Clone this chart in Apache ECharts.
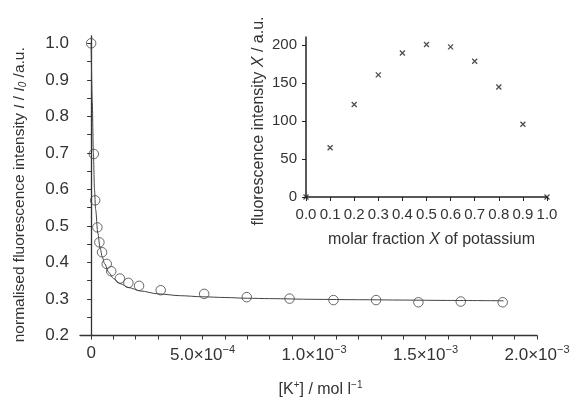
<!DOCTYPE html>
<html><head><meta charset="utf-8">
<script src="https://cdn.jsdelivr.net/npm/echarts@6/dist/echarts.min.js"></script>
<style>html,body{margin:0;padding:0;background:#fff}#c{width:573px;height:403px}</style>
</head><body><div id="c"></div>
<script>
// main chart: quenching titration, x in mol/l
var conc = [0, 0.12e-4, 0.18e-4, 0.28e-4, 0.37e-4, 0.49e-4, 0.70e-4, 0.90e-4, 1.29e-4, 1.67e-4, 2.15e-4, 3.12e-4, 5.07e-4, 6.98e-4, 8.90e-4, 10.87e-4, 12.78e-4, 14.68e-4, 16.58e-4, 18.46e-4];
var ratio = [1.0, 0.697, 0.570, 0.496, 0.455, 0.428, 0.396, 0.376, 0.356, 0.344, 0.336, 0.324, 0.314, 0.305, 0.301, 0.297, 0.297, 0.291, 0.293, 0.291];
var fitX = [0, 0.05e-4, 0.1e-4, 0.15e-4, 0.2e-4, 0.3e-4, 0.4e-4, 0.5e-4, 0.6e-4, 0.8e-4, 1.0e-4, 1.3e-4, 1.7e-4, 2.2e-4, 3.0e-4, 4.0e-4, 5.0e-4, 6.0e-4, 7.0e-4, 8.0e-4, 10e-4, 12e-4, 14e-4, 16e-4, 18.5e-4];
var fitY = [1.0, 0.84, 0.70, 0.60, 0.545, 0.48, 0.44, 0.415, 0.397, 0.372, 0.356, 0.342, 0.331, 0.322, 0.314, 0.309, 0.306, 0.304, 0.302, 0.301, 0.299, 0.298, 0.297, 0.296, 0.295];
var xTickVals = [0, 5e-4, 10e-4, 15e-4, 20e-4];
var xTickMant = ['0', '5.0×10', '1.0×10', '1.5×10', '2.0×10'];
var xTickExp = ['', '−4', '−3', '−3', '−3'];
var yTickVals = [0.2, 0.3, 0.4, 0.5, 0.6, 0.7, 0.8, 0.9, 1.0];
var yTickText = ['0.2', '0.3', '0.4', '0.5', '0.6', '0.7', '0.8', '0.9', '1.0'];
// inset: Job plot
var molFrac = [0.0, 0.1, 0.2, 0.3, 0.4, 0.5, 0.6, 0.7, 0.8, 0.9, 1.0];
var jobInt = [0, 65, 122, 161, 190, 201, 198, 179, 145, 96, 0];
var insetXTicks = ['0.0','0.1','0.2','0.3','0.4','0.5','0.6','0.7','0.8','0.9','1.0'];

var xMinorTicks = [];
for (var i = 0; i <= 20; i++) xMinorTicks.push(i * 1e-4);
var yMinorTicks = [];
for (var j = 0; j <= 16; j++) yMinorTicks.push(+(0.2 + j * 0.05).toFixed(2));

var FONT = 'Liberation Sans, Arial, sans-serif';
var TXT = '#333';
var chart = echarts.init(document.getElementById('c'), null, {renderer: 'canvas'});
chart.setOption({
  animation: false,
  backgroundColor: '#fff',
  textStyle: {fontFamily: FONT},
  grid: [
    {left: 80, right: 36, top: 36, bottom: 62},
    {left: 306, right: 26, top: 37, bottom: 206}
  ],
  xAxis: [{
    gridIndex: 0, type: 'value', min: -0.5e-4, max: 20e-4,
    splitLine: {show: false},
    axisLine: {lineStyle: {color: '#333', width: 1.3}},
    axisTick: {customValues: xMinorTicks, length: 4, lineStyle: {color: '#333'}},
    axisLabel: {
      customValues: xTickVals, margin: 9,
      formatter: function (v) {
        var k = 0, best = 1e9;
        for (var i = 0; i < xTickVals.length; i++) { var d = Math.abs(xTickVals[i] - v); if (d < best) { best = d; k = i; } }
        return xTickExp[k] ? '{b|' + xTickMant[k] + '}{s|' + xTickExp[k] + '}' : '{b|' + xTickMant[k] + '}';
      },
      rich: {b: {fontSize: 17, color: TXT, fontFamily: FONT}, s: {fontSize: 11, color: TXT, fontFamily: FONT, padding: [0, 0, 10, 0]}}
    },
    name: '[K{s|+}] / mol l{s|−1}', nameLocation: 'middle', nameGap: 45,
    nameTextStyle: {fontSize: 16, color: TXT, padding: [0, 0, 0, 24],
      rich: {s: {fontSize: 10, color: TXT, padding: [0, 0, 9, 0]}}}
  }, {
    gridIndex: 1, type: 'value', min: 0, max: 1.0, interval: 0.1,
    splitLine: {show: false},
    axisLine: {lineStyle: {color: '#222', width: 1.5}},
    axisTick: {length: 4, lineStyle: {color: '#222'}},
    axisLabel: {margin: 10, fontSize: 15, color: TXT, showMinLabel: true, showMaxLabel: true,
      formatter: function (v) { return insetXTicks[Math.round(v * 10)]; }},
    name: 'molar fraction {i|X} of potassium', nameLocation: 'middle', nameGap: 35,
    nameTextStyle: {fontSize: 16, color: TXT, padding: [0, 0, 0, 10], rich: {i: {fontSize: 16, fontStyle: 'italic', color: TXT}}}
  }],
  yAxis: [{
    gridIndex: 0, type: 'value', min: 0.2, max: 1.02,
    splitLine: {show: false},
    axisLine: {lineStyle: {color: '#333', width: 1.3}},
    axisTick: {customValues: yMinorTicks, length: 4, lineStyle: {color: '#333'}},
    axisLabel: {customValues: yTickVals, margin: 11, fontSize: 17, color: TXT,
      formatter: function (v) { return yTickText[Math.round((v - 0.2) * 10)]; }},
    name: 'normalised fluorescence intensity {i|I} / {i|I}{sub|0} /a.u.', nameLocation: 'middle', nameGap: 52,
    nameTextStyle: {fontSize: 15.5, color: TXT, padding: [0, 18, 0, 0],
      rich: {i: {fontSize: 15.5, fontStyle: 'italic', color: TXT}, sub: {fontSize: 10, color: TXT, fontStyle: 'italic', padding: [6, 0, 0, 0]}}}
  }, {
    gridIndex: 1, type: 'value', min: 0, max: 211,
    splitLine: {show: false},
    axisLine: {lineStyle: {color: '#222', width: 1.5}},
    axisTick: {customValues: [0, 50, 100, 150, 200], length: 4, lineStyle: {color: '#222'}},
    axisLabel: {customValues: [0, 50, 100, 150, 200], margin: 9, fontSize: 15, color: TXT},
    name: 'fluorescence intensity {i|X} / a.u.', nameLocation: 'middle', nameGap: 39,
    nameTextStyle: {fontSize: 16, color: TXT, padding: [0, 8, 0, 0], rich: {i: {fontSize: 16, fontStyle: 'italic', color: TXT}}}
  }],
  series: [{
    type: 'line', xAxisIndex: 0, yAxisIndex: 0,
    data: fitX.map(function (x, i) { return [x, fitY[i]]; }),
    showSymbol: false, smooth: 0.3, smoothMonotone: 'x',
    lineStyle: {color: '#444', width: 1}, z: 2
  }, {
    type: 'scatter', xAxisIndex: 0, yAxisIndex: 0,
    data: conc.map(function (x, i) { return [x, ratio[i]]; }),
    symbol: 'circle', symbolSize: 9.5,
    itemStyle: {color: 'rgba(255,255,255,0)', borderColor: '#444', borderWidth: 1}, z: 3
  }, {
    type: 'scatter', xAxisIndex: 1, yAxisIndex: 1,
    data: molFrac.map(function (x, i) { return [x, jobInt[i]]; }),
    symbol: 'path://M0,0L10,10M10,0L0,10', symbolSize: 5,
    itemStyle: {color: 'none', borderColor: '#222', borderWidth: 1.3}, z: 3
  }]
});
</script></body></html>
